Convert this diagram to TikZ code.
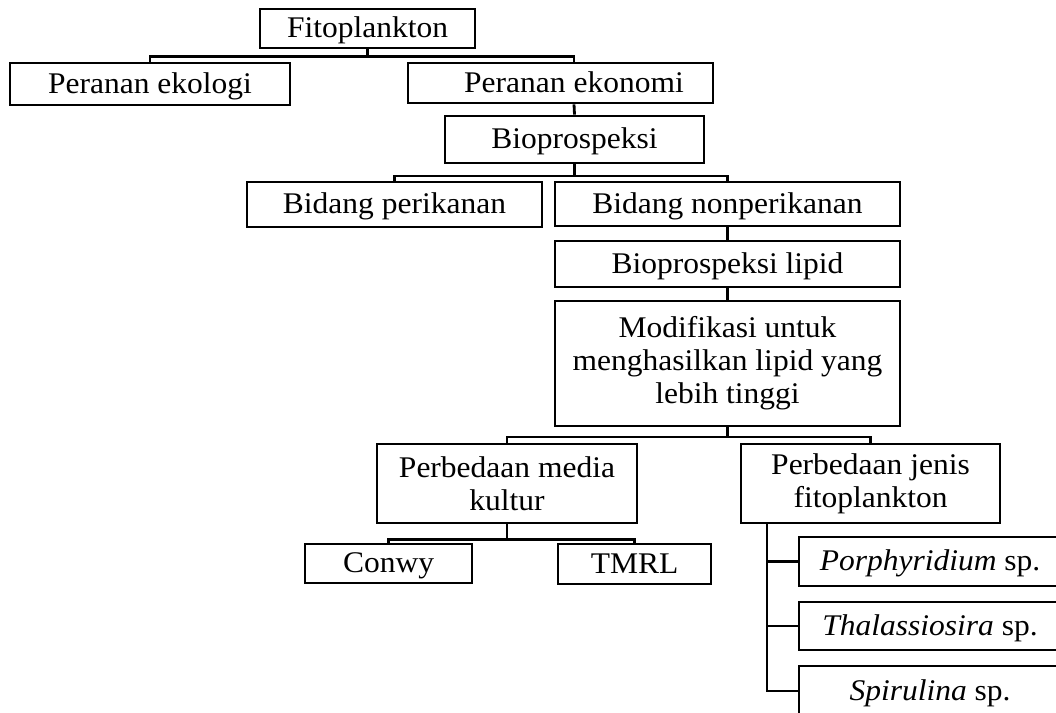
\documentclass[tikz,border=0pt]{standalone}
\usepackage{fontspec}
\setmainfont[FakeStretch=1.05]{Liberation Serif}
\usepackage{tikz}
\usetikzlibrary{positioning}
\newcommand{\treefont}{\fontsize{30}{33}\selectfont}
\tikzset{
  fpbox/.style={
    draw, line width=2.8pt, inner sep=0pt, align=center, font=\treefont
  },
  oneline/.style={fpbox, text height=25pt, text depth=7pt},
  fplink/.style={line width=2.8pt}
}
\begin{document}
\begin{tikzpicture}[x=1pt, y=-1pt]
  \useasboundingbox (0,0) rectangle (1056,712);
  % top levels
  \node[oneline, minimum width=215, minimum height=39] (fito) at (367.5,28.5) {Fitoplankton};
  \node[oneline, minimum width=280, minimum height=42] (ekologi) at (150,84) {Peranan ekologi};
  \node[oneline, minimum width=305, minimum height=40] (ekonomi) at (560.5,83) {\hspace*{27pt}Peranan ekonomi};
  \node[oneline, minimum width=259, minimum height=47] (bio) at (574.5,139.5) {Bioprospeksi};
  \node[oneline, minimum width=295, minimum height=45] (perikanan) at (394.5,204.5) {Bidang perikanan};
  \node[oneline, minimum width=345, minimum height=44] (nonper) at (727.5,204) {Bidang nonperikanan};
  \node[oneline, minimum width=345, minimum height=46] (lipid) at (727.5,264) {Bioprospeksi lipid};
  \node[fpbox, minimum width=345, minimum height=125] (modif) at (727.5,363.5) {Modifikasi untuk\\menghasilkan lipid yang\\lebih tinggi};
  % lower levels
  \node[fpbox, minimum width=260, minimum height=79] (media) at (507,483.5) {Perbedaan media\\kultur};
  \node[fpbox, minimum width=259, minimum height=79] (jenis) at (870.5,483.5) {Perbedaan jenis\\fitoplankton};
  \node[oneline, minimum width=167, minimum height=39] (conwy) at (388.5,563.5) {Conwy};
  \node[oneline, minimum width=153, minimum height=40] (tmrl) at (634.5,564) {TMRL};
  \node[oneline, minimum width=262, minimum height=49] (porph) at (930,561.5) {\textit{Porphyridium} sp.};
  \node[oneline, minimum width=262, minimum height=48] (thal) at (930,626) {\textit{Thalassiosira} sp.};
  \node[oneline, minimum width=262, minimum height=50] (spir) at (930,691) {\textit{Spirulina} sp.};
  % connectors
  \draw[fplink] (fito.south) -- ++(0,7) -| (ekologi.north);
  \draw[fplink] (fito.south) -- ++(0,7) -| ([xshift=13.5pt]ekonomi.north);
  \draw[fplink] ([xshift=13.5pt]ekonomi.south) -- (bio.north);
  \foreach \t in {perikanan, nonper}{\draw[fplink] (bio.south) -- ++(0,11.5) -| (\t.north);}
  \draw[fplink] (nonper) -- (lipid);
  \draw[fplink] (lipid) -- (modif);
  \foreach \t in {media, jenis}{\draw[fplink] (modif.south) -- ++(0,9.5) -| (\t.north);}
  \foreach \t in {conwy, tmrl}{\draw[fplink] (media.south) -- ++(0,15) -| (\t.north);}
  \foreach \t in {porph, thal, spir}{\draw[fplink] ([xshift=-103.5pt]jenis.south) |- (\t.west);}
\end{tikzpicture}
\end{document}
